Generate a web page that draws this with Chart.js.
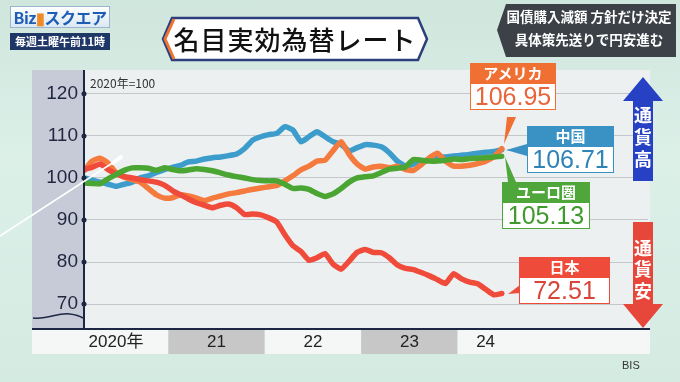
<!DOCTYPE html>
<html lang="ja">
<head>
<meta charset="utf-8">
<script src="https://cdn.jsdelivr.net/npm/chart.js@4.4.1/dist/chart.umd.min.js"></script>
<style>
  body { margin:0; width:680px; height:382px; overflow:hidden; background:#d6ece3; font-family:"Noto Sans CJK JP","Noto Sans",sans-serif; }
  #wrap { position:relative; width:680px; height:382px; background:linear-gradient(#cfe6dd, #dcf0e8 40%, #d4ebe2); }
  canvas { position:absolute; left:0; top:0; }
  .abs { position:absolute; }
  .logo { left:10px; top:6px; width:100px; height:22px; background:linear-gradient(#ffffff,#dbe8f4); border:1px solid #9bb4cf; box-sizing:border-box;
          font:bold 16px "Noto Sans CJK JP"; color:#1d5db5; line-height:20px; text-align:center; letter-spacing:-0.5px; }
  .logo b { color:#f08a24; }
  .slot { left:10px; top:33px; width:100px; height:17px; background:#1f3766; color:#fff; font:bold 11px "Noto Sans CJK JP"; line-height:17px; text-align:center; }
  .title { left:163px; top:18px; width:264px; height:42px; font:500 26px "Noto Sans CJK JP"; color:#111; line-height:42px; text-align:center; letter-spacing:1px; }
  .news { left:506px; top:5px; width:166px; color:#fff; font:bold 13.5px "Noto Sans CJK JP"; line-height:23px; text-align:center; }
  .hd { color:#fff; font:bold 15px "Noto Sans CJK JP"; text-align:center; line-height:20px; height:20px; }
  .val { background:#fff; font:500 25px "Liberation Sans","Noto Sans",sans-serif; text-align:center; box-sizing:border-box; height:27px; line-height:25px; }
  .unit { left:90px; top:74px; font:12px "Noto Sans CJK JP"; color:#333; }
  .src { left:622px; top:359px; font:11px "Liberation Sans",sans-serif; color:#333; }
</style>
</head>
<body>
<div id="wrap">
  <canvas id="chart" width="680" height="382"></canvas>
  <svg class="abs" style="left:0;top:0" width="680" height="382">
    <polygon points="172,18 418,18 427,39 418,60 172,60 163,39" fill="#fff" stroke="#2c3f7c" stroke-width="2.5"/>
    <polyline points="174,19 165,39 174,59" fill="none" stroke="#ee7433" stroke-width="3"/>
    <polygon points="506,4 676,4 676,57 506,57 497,30" fill="#3b4147"/>
    <!-- pointers from line ends to the value boxes -->
    <polygon points="504,144 507,117 516,117" fill="#f06f32"/>
    <polygon points="506,150 527,144 527,156" fill="#3a92c4"/>
    <polygon points="505,157 508,182 516,182" fill="#4fa63a"/>
    <polygon points="508,294 520,285 520,293" fill="#ee4b3b"/>
    <!-- currency up / down arrows -->
    <polygon points="643,77 663,101 653,101 653,181 633,181 633,101 623,101" fill="#2741c4"/>
    <polygon points="633,222 653,222 653,304 663,304 643,328 623,304 633,304" fill="#e7463b"/>
    <g fill="#fff" font-family="Noto Sans CJK JP" font-weight="bold" font-size="18" text-anchor="middle">
      <text x="643" y="122">通</text><text x="643" y="144">貨</text><text x="643" y="166">高</text>
      <text x="643" y="255">通</text><text x="643" y="276">貨</text><text x="643" y="298">安</text>
    </g>
  </svg>
  <div class="abs logo">Biz<b>▮</b>スクエア</div>
  <div class="abs slot">毎週土曜午前11時</div>
  <div class="abs title">名目実効為替レート</div>
  <div class="abs news">国債購入減額 方針だけ決定<br>具体策先送りで円安進む</div>
  <div class="abs unit">2020年=100</div>

  <div class="abs" style="left:470px;top:63px;width:86px">
    <div class="hd" style="background:#f06f32">アメリカ</div>
    <div class="val" style="border:1.5px solid #f06f32;color:#e8653a">106.95</div>
  </div>
  <div class="abs" style="left:527px;top:126px;width:87px">
    <div class="hd" style="background:#3a92c4">中国</div>
    <div class="val" style="border:1.5px solid #3a92c4;color:#2f84b6">106.71</div>
  </div>
  <div class="abs" style="left:502px;top:182px;width:88px">
    <div class="hd" style="background:#4fa63a">ユーロ圏</div>
    <div class="val" style="border:1.5px solid #4fa63a;color:#3f9a2c">105.13</div>
  </div>
  <div class="abs" style="left:519px;top:257px;width:91px">
    <div class="hd" style="background:#ee4b3b">日本</div>
    <div class="val" style="border:1.5px solid #ee4b3b;color:#d8453a">72.51</div>
  </div>
  <div class="abs src">BIS</div>
</div>

<script>
// 名目実効為替レート (2020年=100), monthly from Feb 2020 to Jun 2024
const startMonth = 1.5;              // months after Jan 2020 (mid-Feb)
const yearLabels = ['2020年', '21', '22', '23', '24'];
const yearStarts = [0, 12, 24, 36, 48];
const yTicks = [70, 80, 90, 100, 110, 120];

const china = [100, 99.5, 99, 98.5, 98, 98.5, 99, 100, 100.5, 101.3,
  102, 102.5, 103, 103.8, 104, 104.5, 104.8, 105, 105.3, 105.7,
  107, 109, 109.8, 110.3, 110.6, 112.2, 111.4, 108.6, 109.8, 111,
  109.8, 108.6, 108, 106.4, 107.2, 107.9, 107.8, 107.4, 106, 104,
  102.8, 103.3, 104, 104.3, 104.8, 105, 105.2, 105.4, 105.6, 105.9,
  106.1, 106.3, 106.71];
const euro = [98.8, 98.7, 98.6, 99.8, 100.8, 101.8, 102.4, 102.4, 102.3, 101.8,
  102.4, 102, 101.7, 101.9, 102.2, 102, 101.7, 101.2, 100.7, 100.3,
  100, 99.6, 99.4, 99.3, 99.3, 98.5, 97.5, 97.6, 97.3, 96.3,
  95.6, 96.2, 97.5, 99, 100, 100.3, 100.5, 101.3, 102.1, 102.3,
  102.6, 104.4, 104.2, 104, 104, 104.2, 104.5, 104.4, 104.6, 104.7,
  104.8, 105, 105.13];
const usa = [101.7, 104, 104.7, 103.5, 101.2, 100.2, 99.6, 99, 97.5, 96,
  95.2, 95.3, 96, 95.7, 95.2, 94.6, 95.2, 95.7, 96.2, 96.5,
  96.9, 97.3, 97.6, 97.9, 98.2, 99.3, 100.5, 101.9, 102.8, 104,
  104.2, 106.5, 108.6, 105.6, 103.3, 102.1, 102.6, 102.8, 102.4, 102.8,
  102, 101.8, 103.2, 104.8, 105.9, 104, 102.8, 102.8, 103, 103.4,
  104, 105, 106.95];
const japan = [102, 102.5, 103.3, 102, 101, 100.3, 100, 99.6, 99.3, 99,
  98.3, 97, 96, 95, 94.1, 93.5, 92.9, 93.5, 93.8, 92.9,
  91.3, 91.4, 91.2, 90.5, 89.5, 86.5, 83.9, 82.5, 80.4, 81,
  82, 79.5, 78.3, 80.2, 82.3, 83, 82.3, 82.2, 81, 79.3,
  78.5, 78.2, 77.5, 76.7, 75.8, 74.9, 77.2, 76, 75.2, 74.8,
  73.5, 72.2, 72.51];

const toPoints = arr => arr.map((v, i) => ({ x: startMonth + i, y: v }));

const panelPlugin = {
  id: 'panel',
  beforeDraw(chart) {
    const { ctx, chartArea: a, scales: { x } } = chart;
    ctx.save();
    ctx.fillStyle = '#edf0f1';
    ctx.fillRect(32, 70, a.right - 30, a.bottom - 70);
    ctx.fillStyle = '#c7cbd7';
    ctx.fillRect(32, 70, a.left - 32, a.bottom - 70);
    // year bands under the axis
    const edges = yearStarts.map(m => x.getPixelForValue(m));
    edges[0] = 32;
    edges.push(a.right + 2);
    ctx.font = '17px "Liberation Sans", "Noto Sans CJK JP", sans-serif';
    ctx.textAlign = 'center';
    ctx.textBaseline = 'middle';
    yearLabels.forEach((lab, i) => {
      ctx.fillStyle = i % 2 ? '#c7c7c7' : '#f5f6f6';
      ctx.fillRect(edges[i], a.bottom + 2, edges[i + 1] - edges[i], 24);
      ctx.fillStyle = '#222';
      let cx = i === 0 ? 116 : (edges[i] + edges[i + 1]) / 2;
      if (i === yearLabels.length - 1) cx = edges[i] + 28;
      ctx.fillText(lab, cx, a.bottom + 14);
    });
    ctx.restore();
  },
  afterDraw(chart) {
    const { ctx, chartArea: a, scales: { y } } = chart;
    ctx.save();
    ctx.strokeStyle = '#1d2643';
    ctx.lineWidth = 2;
    ctx.beginPath();
    ctx.moveTo(a.left, 70); ctx.lineTo(a.left, a.bottom);
    ctx.moveTo(32, a.bottom + 1); ctx.lineTo(a.right + 2, a.bottom + 1);
    ctx.stroke();
    ctx.fillStyle = '#1d2643';
    yTicks.forEach(v => {
      ctx.beginPath();
      ctx.arc(a.left, y.getPixelForValue(v), 2.5, 0, Math.PI * 2);
      ctx.fill();
    });
    // axis break mark
    ctx.lineWidth = 1.5;
    ctx.beginPath();
    ctx.moveTo(33, 318);
    ctx.bezierCurveTo(48, 320, 58, 312, 70, 314);
    ctx.quadraticCurveTo(78, 315, 83, 318);
    ctx.stroke();
    // white pointer stick
    ctx.strokeStyle = '#ffffff';
    ctx.lineWidth = 1.5;
    ctx.beginPath();
    ctx.moveTo(0, 236); ctx.lineTo(117, 160);
    ctx.stroke();
    ctx.lineWidth = 4;
    ctx.lineCap = 'round';
    ctx.beginPath();
    ctx.moveTo(113, 163); ctx.lineTo(121, 157);
    ctx.stroke();
    ctx.restore();
  }
};

const line = (data, color) => ({
  data: toPoints(data), borderColor: color, borderWidth: 5.5, pointRadius: 0,
  tension: 0.15, borderJoinStyle: 'round', borderCapStyle: 'round', fill: false
});

new Chart(document.getElementById('chart'), {
  type: 'line',
  data: {
    datasets: [
      line(euro, '#4aa532'),
      line(japan, '#f04b3a'),
      line(usa, '#f47a3e'),
      line(china, '#3c9ccb')
    ]
  },
  options: {
    responsive: false,
    animation: false,
    devicePixelRatio: 1,
    layout: { padding: { left: 32, right: 32, top: 72, bottom: 54 } },
    plugins: { legend: { display: false }, tooltip: { enabled: false } },
    scales: {
      x: { type: 'linear', min: startMonth, max: 71.7, display: false },
      y: {
        min: 64.3, max: 125.2,
        afterBuildTicks: s => { s.ticks = yTicks.map(v => ({ value: v })); },
        afterFit: s => { s.width = 52; },
        grid: { color: '#c4c8cc', lineWidth: 1, drawTicks: false },
        border: { display: false },
        ticks: { color: '#1f2740', padding: 6, font: { size: 19, family: '"Liberation Sans", sans-serif' } }
      }
    }
  },
  plugins: [panelPlugin]
});
</script>
</body>
</html>
